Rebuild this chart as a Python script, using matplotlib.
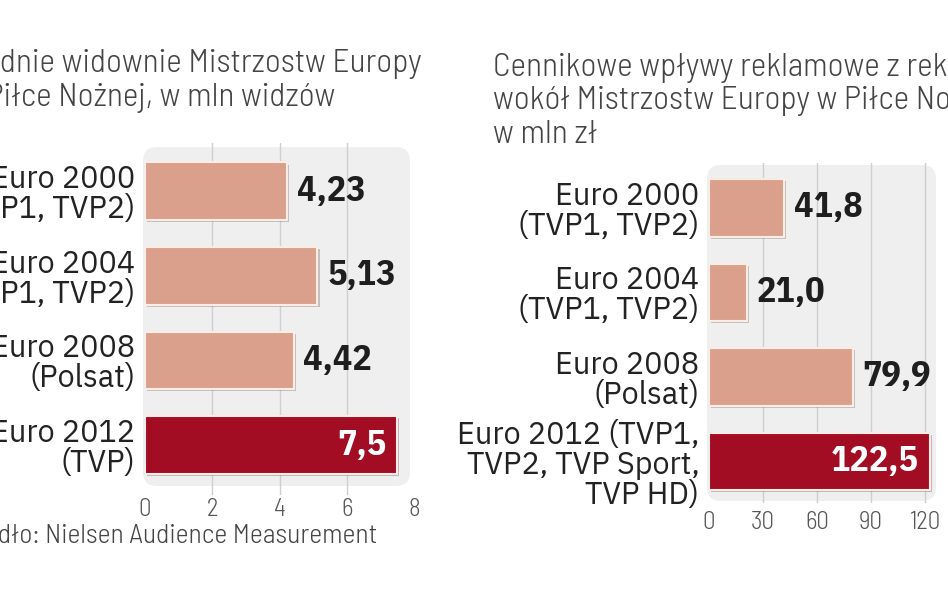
import matplotlib
matplotlib.use("Agg")
import matplotlib.pyplot as plt
from matplotlib.patches import FancyBboxPatch
from matplotlib import transforms
import matplotlib.patheffects as pe

# dane
kat_widz = ["Euro 2000\n(TVP1, TVP2)", "Euro 2004\n(TVP1, TVP2)", "Euro 2008\n(Polsat)", "Euro 2012\n(TVP)"]
widzowie = [4.23, 5.13, 4.42, 7.5]
etyk_widz = ["4,23", "5,13", "4,42", "7,5"]
ticks_widz = [0, 2, 4, 6, 8]

kat_rekl = ["Euro 2000\n(TVP1, TVP2)", "Euro 2004\n(TVP1, TVP2)", "Euro 2008\n(Polsat)",
            "Euro 2012 (TVP1,\nTVP2, TVP Sport,\nTVP HD)"]
reklama = [41.8, 21.0, 79.9, 122.5]
etyk_rekl = ["41,8", "21,0", "79,9", "122,5"]
ticks_rekl = [0, 30, 60, 90, 120]

tytul_l = ["Średnie widownie Mistrzostw Europy", "w Piłce Nożnej, w mln widzów"]
tytul_p = ["Cennikowe wpływy reklamowe z reklam", "wokół Mistrzostw Europy w Piłce Nożnej,", "w mln zł"]
zrodlo = "Źródło: Nielsen Audience Measurement"

W, H = 948, 593
jasny = "#dba08b"
ciemny = "#a30d24"
F_TYT = "Barlow Semi Condensed"
F_KAT = "IBM Plex Sans"
F_WAR = "IBM Plex Sans Condensed"

fig = plt.figure(figsize=(W / 100, H / 100), dpi=100)
fig.patch.set_facecolor("white")
px = transforms.Affine2D().scale(1 / W, 1 / H) + fig.transFigure


def panel(x0, x1, y0, y1):
    p = FancyBboxPatch((x0, H - y1), x1 - x0, y1 - y0, boxstyle="round,pad=0,rounding_size=14",
                       transform=px, facecolor="#efefef", edgecolor="none", zorder=-10)
    fig.patches.append(p)


def wykres(ax_px, ylim, vals, kats, etyk, ticks, xlim, xpad):
    x0, x1, y0, y1 = ax_px
    ax = fig.add_axes([x0 / W, 1 - y1 / H, (x1 - x0) / W, (y1 - y0) / H])
    ax.set_facecolor("none")
    y = list(range(len(vals)))
    kol = [jasny] * (len(vals) - 1) + [ciemny]
    bars = ax.barh(y, vals, height=0.68, color=kol, edgecolor="#fbece6", linewidth=1.5, zorder=3)
    for b in bars:
        b.set_path_effects([pe.SimplePatchShadow(offset=(1.5, -1.5), alpha=0.25), pe.Normal()])
    ax.set_xlim(*xlim)
    ax.set_ylim(*ylim)
    ax.set_xticks(ticks)
    ax.set_xticklabels([str(t) for t in ticks], fontfamily=F_TYT, fontweight=300, fontsize=18, color="#555555")
    ax.set_yticks(y)
    ax.set_yticklabels(kats, fontfamily=F_KAT, fontsize=22, color="#222222", linespacing=1.0)
    ax.tick_params(axis="both", length=0)
    ax.tick_params(axis="x", pad=xpad)
    ax.tick_params(axis="y", pad=7)
    for s in ax.spines.values():
        s.set_visible(False)
    ax.grid(axis="x", color="#cfcfcf", linewidth=1, zorder=0)
    ax.set_axisbelow(True)
    gl = ax.get_xgridlines()
    gl[0].set_visible(False)
    if ticks[-1] >= xlim[1]:
        gl[-1].set_visible(False)
    for i, (v, t) in enumerate(zip(vals, etyk)):
        if i == len(vals) - 1:
            ax.annotate(t, (v, i), xytext=(-8, 0), textcoords="offset points", ha="right", va="center",
                        fontfamily=F_WAR, fontweight="bold", fontsize=26, color="white", zorder=5)
        else:
            ax.annotate(t, (v, i), xytext=(7, 0), textcoords="offset points", ha="left", va="center",
                        fontfamily=F_WAR, fontweight="bold", fontsize=26, color="#1e1e1e", zorder=5)
    return ax


# lewy wykres
panel(143, 410, 147, 486)
wykres((145, 414, 143, 495), (3.59, -0.57), widzowie, kat_widz, etyk_widz, ticks_widz, (0, 8), 2)

# prawy wykres
panel(707, 936, 165, 501)
wykres((709, 934, 163, 503), (3.49, -0.53), reklama, kat_rekl, etyk_rekl, ticks_rekl, (0, 125), 6)

# tytuly
fig.text(422 / W, 1 - 72 / H, tytul_l[0], ha="right", va="baseline", fontfamily=F_TYT, fontweight=300,
         fontsize=24, color="#444444")
fig.text(335 / W, 1 - 106 / H, tytul_l[1], ha="right", va="baseline", fontfamily=F_TYT, fontweight=300,
         fontsize=24, color="#444444")
for i, t in enumerate(tytul_p):
    fig.text(493 / W, 1 - (76 + 33.5 * i) / H, t, ha="left", va="baseline", fontfamily=F_TYT, fontweight=300,
             fontsize=24, color="#444444")

fig.text(377 / W, 1 - 543 / H, zrodlo, ha="right", va="baseline", fontfamily=F_TYT, fontweight=300,
         fontsize=20, color="#444444")

fig.savefig("out.png", dpi=100)
